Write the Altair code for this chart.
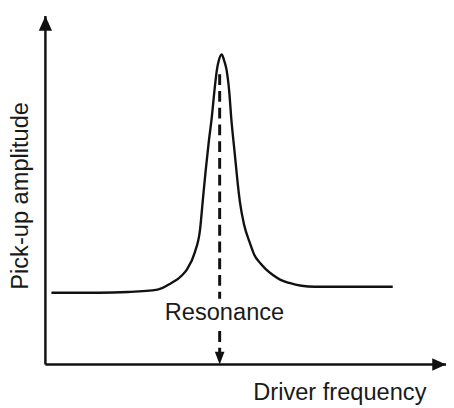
import altair as alt
import pandas as pd

# Resonance curve (frequency, amplitude) in arbitrary units 0-100
freq = [1.5, 13.3, 20.6, 28.0, 31.2, 34.2, 35.4, 37.3, 38.6, 39.3, 40.0, 40.8, 41.5, 42.3, 42.8, 43.3, 44.0,
        44.6, 45.2, 45.9, 46.4, 47.2, 48.2, 48.6, 49.6, 51.1, 52.1, 53.6, 55.0, 56.8, 58.7, 60.9, 63.9, 67.3, 86.7]
amp = [20.6, 20.6, 20.8, 21.5, 23.2, 25.7, 27.4, 32.2, 38.7, 47.2, 55.6, 64.1, 70.6, 79.7, 84.5, 87.3, 89.0,
       87.3, 84.7, 78.2, 70.6, 61.3, 50.0, 46.3, 40.1, 34.7, 31.6, 29.1, 27.4, 25.7, 24.3, 23.4, 22.6, 22.3, 22.3]

resonance_x = 43.5
dash_top = 83.3
dash_gap = [18.9, 9.6]

labels = ["Resonance", "Driver frequency", "Pick-up amplitude"]
label_x = [44.7, 73.5, -4.4]
label_y = [12.7, -10.2, 48.4]
label_angle = [0, 0, 270]

X = alt.Scale(domain=[0, 100])
Y = alt.Scale(domain=[0, 100])
INK = "#111111"

curve_df = pd.DataFrame({"f": freq, "a": amp})
curve = alt.Chart(curve_df).mark_line(color=INK, strokeWidth=2.4, interpolate="monotone").encode(
    x=alt.X("f:Q", scale=X, axis=None), y=alt.Y("a:Q", scale=Y, axis=None))

axes_df = pd.DataFrame({"x": [0, 0], "y": [0, 0], "x2": [0, 100], "y2": [100, 0]})
axes = alt.Chart(axes_df).mark_rule(color=INK, strokeWidth=2.5).encode(
    x=alt.X("x:Q", scale=X, axis=None), y=alt.Y("y:Q", scale=Y, axis=None), x2="x2:Q", y2="y2:Q")

up = alt.Chart(pd.DataFrame({"x": [0], "y": [100]})).mark_point(
    shape="M0,-1L-0.9,1L0.9,1Z", size=225, filled=True, color=INK, opacity=1, yOffset=7.5).encode(
    x=alt.X("x:Q", scale=X, axis=None), y=alt.Y("y:Q", scale=Y, axis=None))
right = alt.Chart(pd.DataFrame({"x": [100], "y": [0]})).mark_point(
    shape="M1,0L-1,-0.9L-1,0.9Z", size=196, filled=True, color=INK, opacity=1, xOffset=-7).encode(
    x=alt.X("x:Q", scale=X, axis=None), y=alt.Y("y:Q", scale=Y, axis=None))

dash_df = pd.DataFrame({"x": [resonance_x, resonance_x], "y": [dash_top, dash_gap[1]], "y2": [dash_gap[0], 0]})
dash = alt.Chart(dash_df).mark_rule(color=INK, strokeWidth=3, strokeDash=[11, 6]).encode(
    x=alt.X("x:Q", scale=X, axis=None), y=alt.Y("y:Q", scale=Y, axis=None), y2="y2:Q")
down = alt.Chart(pd.DataFrame({"x": [resonance_x], "y": [0]})).mark_point(
    shape="M0,1L-0.75,-1L0.75,-1Z", size=169, filled=True, color=INK, opacity=1, yOffset=-6.5).encode(
    x=alt.X("x:Q", scale=X, axis=None), y=alt.Y("y:Q", scale=Y, axis=None))

lab_df = pd.DataFrame({"t": labels, "x": label_x, "y": label_y, "ang": label_angle})
texts = []
for i in range(3):
    texts.append(alt.Chart(lab_df.iloc[[i]]).mark_text(
        font="Liberation Sans", fontSize=24, color="#1a1a1a", align="center", baseline="alphabetic",
        angle=label_angle[i]).encode(
        x=alt.X("x:Q", scale=X, axis=None), y=alt.Y("y:Q", scale=Y, axis=None), text="t:N"))

chart = alt.layer(curve, axes, up, right, dash, down, *texts).properties(
    width=407, height=354,
    padding={"left": 38, "top": 5, "right": 0, "bottom": 41},
    autosize=alt.AutoSizeParams(type="none"),
).configure_view(stroke=None)

chart.save("out.html", embed_options={"renderer": "svg", "actions": False})
